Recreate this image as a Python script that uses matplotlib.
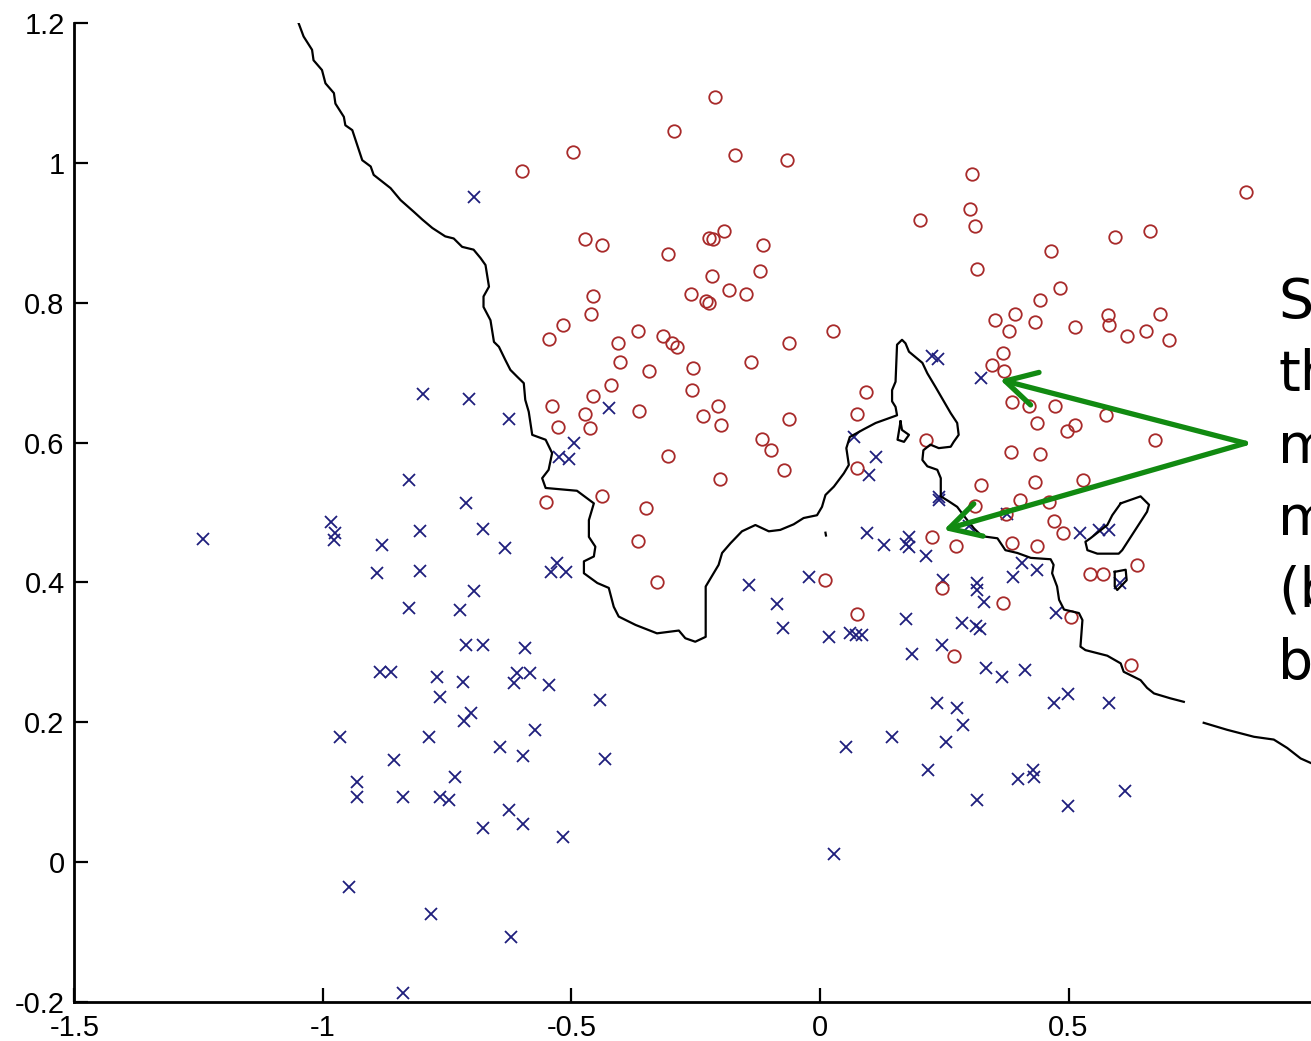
import numpy as np
import matplotlib
matplotlib.use('Agg')
import matplotlib.pyplot as plt

# red class (circles)
red_pts = [
    (-0.212, 1.094), (-0.293, 1.046), (-0.496, 1.016), (-0.172, 1.012), (-0.067, 1.004), (-0.599, 0.989),
    (0.306, 0.984), (0.858, 0.959), (0.301, 0.934), (0.202, 0.919), (0.311, 0.910), (0.593, 0.894),
    (0.663, 0.903), (-0.472, 0.891), (-0.438, 0.882), (-0.305, 0.870), (-0.224, 0.892), (-0.216, 0.891),
    (-0.194, 0.902), (-0.114, 0.882), (0.465, 0.874), (-0.120, 0.846), (-0.218, 0.838), (0.316, 0.849),
    (-0.259, 0.813), (-0.230, 0.803), (-0.224, 0.800), (-0.184, 0.818), (-0.148, 0.813), (-0.456, 0.810),
    (-0.460, 0.784), (0.483, 0.821), (0.442, 0.804), (0.352, 0.775), (0.392, 0.784), (0.381, 0.759),
    (0.432, 0.772), (0.514, 0.766), (0.580, 0.782), (0.581, 0.768), (0.617, 0.752), (0.656, 0.759),
    (0.684, 0.784), (0.703, 0.747), (0.027, 0.760), (-0.063, 0.743), (-0.518, 0.768), (-0.546, 0.748),
    (-0.407, 0.743), (-0.367, 0.760), (-0.315, 0.752), (-0.297, 0.742), (-0.287, 0.737), (-0.402, 0.715),
    (-0.345, 0.702), (-0.255, 0.707), (-0.138, 0.715), (0.368, 0.728), (0.346, 0.711), (0.370, 0.703),
    (-0.420, 0.682), (-0.456, 0.667), (-0.257, 0.675), (-0.540, 0.653), (-0.472, 0.641), (-0.462, 0.621),
    (-0.528, 0.622), (-0.365, 0.645), (-0.206, 0.653), (-0.236, 0.638), (-0.200, 0.625), (-0.063, 0.633),
    (-0.116, 0.605), (-0.098, 0.589), (-0.073, 0.560), (-0.305, 0.581), (-0.202, 0.548), (-0.552, 0.515),
    (-0.438, 0.524), (-0.351, 0.507), (-0.367, 0.459), (-0.327, 0.401), (0.011, 0.404), (0.092, 0.673),
    (0.075, 0.641), (0.214, 0.604), (0.075, 0.563), (0.387, 0.658), (0.420, 0.652), (0.472, 0.652),
    (0.576, 0.640), (0.437, 0.628), (0.497, 0.616), (0.514, 0.625), (0.674, 0.604), (0.385, 0.587),
    (0.442, 0.584), (0.323, 0.539), (0.432, 0.543), (0.530, 0.546), (0.311, 0.509), (0.403, 0.518),
    (0.460, 0.515), (0.375, 0.498), (0.470, 0.488), (0.489, 0.470), (0.226, 0.465), (0.273, 0.452),
    (0.387, 0.456), (0.437, 0.452), (0.544, 0.412), (0.570, 0.412), (0.638, 0.425), (0.505, 0.351),
    (0.625, 0.282), (0.246, 0.392), (0.075, 0.355), (0.269, 0.294), (0.368, 0.371),
]

# blue class (crosses)
blue_pts = [
    (-0.697, 0.952), (-0.798, 0.670), (-0.707, 0.662), (-0.626, 0.633), (-0.425, 0.649), (-0.495, 0.600),
    (-0.526, 0.579), (-0.505, 0.576), (-0.827, 0.547), (-0.713, 0.514), (-0.983, 0.487), (-0.975, 0.470),
    (-0.978, 0.461), (-1.242, 0.462), (-0.881, 0.454), (-0.805, 0.474), (-0.678, 0.477), (-0.633, 0.449),
    (-0.529, 0.427), (-0.542, 0.415), (-0.512, 0.415), (-0.891, 0.413), (-0.805, 0.416), (-0.697, 0.388),
    (-0.827, 0.363), (-0.725, 0.360), (-0.713, 0.310), (-0.678, 0.310), (-0.593, 0.306), (-0.886, 0.271),
    (-0.864, 0.272), (-0.770, 0.265), (-0.718, 0.257), (-0.609, 0.270), (-0.583, 0.270), (-0.616, 0.256),
    (-0.546, 0.253), (-0.443, 0.232), (-0.764, 0.236), (-0.702, 0.213), (-0.717, 0.201), (-0.966, 0.179),
    (-0.787, 0.179), (-0.574, 0.189), (-0.644, 0.164), (-0.597, 0.151), (-0.432, 0.147), (-0.858, 0.146),
    (-0.735, 0.122), (-0.931, 0.115), (-0.931, 0.093), (-0.839, 0.093), (-0.764, 0.093), (-0.747, 0.089),
    (-0.626, 0.074), (-0.597, 0.054), (-0.678, 0.049), (-0.517, 0.036), (-0.948, -0.036), (-0.782, -0.074),
    (-0.621, -0.107), (-0.839, -0.187), (-0.143, 0.396), (-0.086, 0.369), (-0.023, 0.408), (-0.074, 0.334),
    (0.018, 0.322), (0.061, 0.327), (0.073, 0.325), (0.085, 0.325), (0.068, 0.608), (0.112, 0.579),
    (0.098, 0.554), (0.239, 0.518), (0.239, 0.522), (0.299, 0.480), (0.094, 0.470), (0.128, 0.453),
    (0.179, 0.465), (0.179, 0.451), (0.174, 0.455), (0.214, 0.438), (0.237, 0.719), (0.226, 0.724),
    (0.323, 0.693), (0.248, 0.403), (0.316, 0.399), (0.316, 0.389), (0.330, 0.372), (0.174, 0.347),
    (0.285, 0.342), (0.321, 0.333), (0.313, 0.338), (0.186, 0.298), (0.246, 0.310), (0.333, 0.277),
    (0.367, 0.265), (0.413, 0.274), (0.236, 0.227), (0.276, 0.220), (0.287, 0.196), (0.253, 0.171),
    (0.144, 0.179), (0.053, 0.164), (0.218, 0.131), (0.470, 0.227), (0.499, 0.240), (0.581, 0.227),
    (0.398, 0.118), (0.428, 0.132), (0.431, 0.122), (0.315, 0.089), (0.499, 0.080), (0.614, 0.102),
    (0.028, 0.011), (0.474, 0.356), (0.603, 0.399), (0.524, 0.470), (0.561, 0.475), (0.581, 0.475),
    (0.389, 0.408), (0.407, 0.428), (0.437, 0.418), (0.377, 0.498),
]

# decision boundary (nan = hidden stretch)
boundary = [
    (-1.049, 1.200), (-1.039, 1.181), (-1.022, 1.162), (-1.019, 1.147), (-1.002, 1.133), (-0.995, 1.114),
    (-0.978, 1.100), (-0.975, 1.085), (-0.958, 1.066), (-0.955, 1.054), (-0.941, 1.047), (-0.928, 1.019),
    (-0.921, 1.004), (-0.904, 0.995), (-0.898, 0.983), (-0.864, 0.964), (-0.844, 0.947), (-0.817, 0.930),
    (-0.800, 0.919), (-0.780, 0.907), (-0.754, 0.895), (-0.737, 0.892), (-0.720, 0.880), (-0.697, 0.876),
    (-0.683, 0.864), (-0.673, 0.854), (-0.666, 0.823), (-0.677, 0.809), (-0.677, 0.794), (-0.663, 0.775),
    (-0.656, 0.744), (-0.646, 0.737), (-0.633, 0.718), (-0.623, 0.704), (-0.609, 0.694), (-0.596, 0.685),
    (-0.593, 0.661), (-0.586, 0.644), (-0.579, 0.611), (-0.552, 0.604), (-0.539, 0.585), (-0.546, 0.561),
    (-0.559, 0.549), (-0.552, 0.535), (-0.489, 0.531), (-0.455, 0.513), (-0.465, 0.489), (-0.465, 0.465),
    (-0.452, 0.451), (-0.455, 0.437), (-0.475, 0.430), (-0.475, 0.413), (-0.448, 0.399), (-0.425, 0.392),
    (-0.415, 0.365), (-0.405, 0.351), (-0.371, 0.339), (-0.328, 0.327), (-0.284, 0.331), (-0.271, 0.320),
    (-0.251, 0.315), (-0.230, 0.322), (-0.230, 0.394), (-0.204, 0.425), (-0.197, 0.442), (-0.180, 0.456),
    (-0.157, 0.473), (-0.130, 0.482), (-0.103, 0.473), (-0.080, 0.475), (-0.053, 0.483), (-0.033, 0.492),
    (-0.006, 0.496), (0.004, 0.508), (0.011, 0.525), (0.028, 0.537), (0.048, 0.556), (0.058, 0.568),
    (0.053, 0.592), (0.060, 0.608), (0.088, 0.619), (0.112, 0.628), (0.155, 0.639), (0.152, 0.651),
    (0.145, 0.659), (0.145, 0.675), (0.152, 0.687), (0.155, 0.740), (0.165, 0.747), (0.172, 0.742),
    (0.179, 0.730), (0.206, 0.714), (0.216, 0.699), (0.232, 0.680), (0.249, 0.659), (0.263, 0.642),
    (0.276, 0.628), (0.279, 0.611), (0.269, 0.601), (0.263, 0.594), (0.239, 0.592), (0.222, 0.597),
    (0.208, 0.589), (0.206, 0.575), (0.216, 0.566), (0.236, 0.561), (0.243, 0.549), (0.243, 0.523),
    (0.259, 0.516), (0.276, 0.508), (0.293, 0.492), (0.310, 0.477), (0.326, 0.466), (0.357, 0.463),
    (0.373, 0.446), (0.397, 0.442), (0.424, 0.435), (0.464, 0.433), (0.470, 0.425), (0.467, 0.413),
    (0.477, 0.394), (0.481, 0.375), (0.491, 0.361), (0.521, 0.356), (0.528, 0.346), (0.524, 0.308),
    (0.534, 0.303), (0.578, 0.295), (0.605, 0.284), (0.611, 0.272), (0.645, 0.260), (0.658, 0.249),
    (0.672, 0.241), (0.705, 0.234), (0.732, 0.229), (np.nan, np.nan),
    (0.772, 0.199), (0.819, 0.189), (0.873, 0.179), (0.913, 0.175), (0.940, 0.163), (0.967, 0.148),
    (0.989, 0.141), (1.017, 0.132),
]

# small closed pieces of the boundary
loop_small = [(0.162, 0.630), (0.156, 0.604), (0.169, 0.601), (0.179, 0.611), (0.165, 0.618), (0.162, 0.630)]
loop_island = [(0.605, 0.513), (0.645, 0.523), (0.662, 0.511), (0.658, 0.501), (0.608, 0.446), (0.601, 0.441),
               (0.558, 0.441), (0.538, 0.446), (0.534, 0.458), (0.544, 0.463), (0.578, 0.482), (0.588, 0.496),
               (0.605, 0.513)]
loop_box = [(0.593, 0.415), (0.615, 0.418), (0.617, 0.403), (0.598, 0.389), (0.593, 0.394), (0.593, 0.415)]
loop_dot = [(0.011, 0.471), (0.012, 0.467)]

# annotation
arrow_tail = (0.856, 0.599)
arrow_tips = [(0.362, 0.690), (0.249, 0.475)]
note_lines = ['Some', 'the', 'mistakes', 'made', '(but', 'better)']

xticks = [-1.5, -1, -0.5, 0, 0.5, 1]
xtick_labels = ['-1.5', '-1', '-0.5', '0', '0.5', '1']
yticks = [-0.2, 0, 0.2, 0.4, 0.6, 0.8, 1.0, 1.2]
ytick_labels = ['-0.2', '0', '0.2', '0.4', '0.6', '0.8', '1', '1.2']

fig = plt.figure(figsize=(13.11, 10.41), dpi=100)
ax = fig.add_axes([0.0568, 0.0378, 0.9478, 0.9399])

rx, ry = np.array(red_pts).T
bx, by = np.array(blue_pts).T
ax.plot(bx, by, 'x', color='#1e1e7c', ms=9, mew=1.3, zorder=2)
ax.plot(rx, ry, 'o', color='#a82a2a', mfc='none', ms=9, mew=1.3, zorder=3)

for piece in [boundary, loop_small, loop_island, loop_box, loop_dot]:
    px, py = np.array(piece).T
    ax.plot(px, py, '-', color='black', lw=1.6, zorder=4)

for tip in arrow_tips:
    ax.annotate('', xy=tip, xytext=arrow_tail,
                arrowprops=dict(arrowstyle='->,head_length=1.0,head_width=0.55',
                                color='#118a11', lw=3.8, mutation_scale=22,
                                shrinkA=0, shrinkB=0), zorder=5)

ax.text(0.922, 0.838, '\n'.join(note_lines), ha='left', va='top', fontsize=40,
        family='DejaVu Sans', linespacing=1.43, zorder=6)

ax.set_xlim(-1.5, 1.0)
ax.set_ylim(-0.2, 1.2)
ax.set_xticks(xticks)
ax.set_xticklabels(xtick_labels)
ax.set_yticks(yticks)
ax.set_yticklabels(ytick_labels)
for lab in ax.get_xticklabels() + ax.get_yticklabels():
    lab.set_family('Liberation Sans')
    lab.set_fontsize(21)
ax.tick_params(direction='in', length=10, width=1.6, pad=7)
ax.tick_params(axis='x', pad=9)
ax.spines['top'].set_visible(False)
ax.spines['right'].set_visible(False)
ax.spines['left'].set_linewidth(2)
ax.spines['bottom'].set_linewidth(2)

fig.savefig('out.png', dpi=100)
